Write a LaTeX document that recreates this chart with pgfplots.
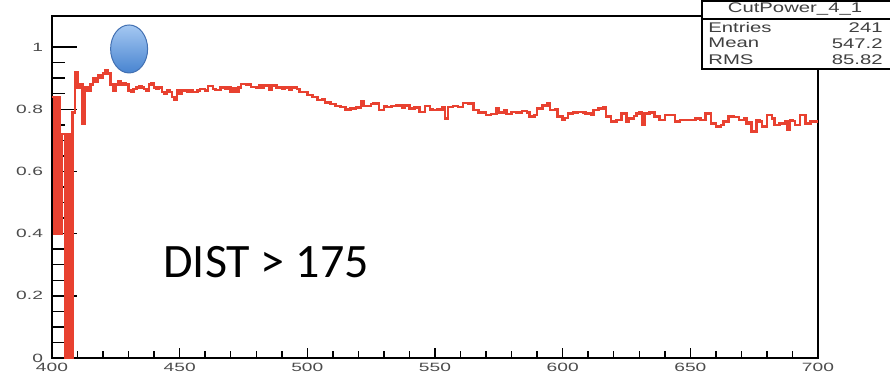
\documentclass[border=0pt]{standalone}
\usepackage{pgfplots}
\pgfplotsset{compat=1.18}
\usetikzlibrary{shapes.geometric}
\usepackage{fontspec}
\setmainfont{Liberation Sans}
\newfontfamily\rootfont[FakeStretch=1.6]{Liberation Sans}
\newfontfamily\statfont[FakeStretch=1.45]{Liberation Sans}
\newfontfamily\calib{Carlito}
\definecolor{histred}{RGB}{232,65,48}
\definecolor{ballhi}{RGB}{165,200,242}
\definecolor{balllo}{RGB}{72,132,208}
\definecolor{ballrim}{RGB}{66,112,178}
\pgfplotstableread{
x y
400 0.84
401 0.40
402 0.84
403 0.40
404 0.72
405 0.00
406 0.72
407 0.00
408 0.79
409 0.92
410 0.87
411 0.88
412 0.755
413 0.87
414 0.86
415 0.88
416 0.90
417 0.89
418 0.91
419 0.90
420 0.915
421 0.926
422 0.915
423 0.88
424 0.86
425 0.88
426 0.89
427 0.88
428 0.885
429 0.88
430 0.86
431 0.855
432 0.865
433 0.87
434 0.875
435 0.87
436 0.865
437 0.86
438 0.88
439 0.885
440 0.87
441 0.865
442 0.87
443 0.855
444 0.85
445 0.86
446 0.855
447 0.84
448 0.83
449 0.86
450 0.85
451 0.86
452 0.86
453 0.855
454 0.86
455 0.855
456 0.855
457 0.86
458 0.865
460 0.86
461 0.875
463 0.865
464 0.862
466 0.87
468 0.865
469 0.872
470 0.856
471 0.867
472 0.856
473 0.87
474 0.881
476 0.878
477 0.88
478 0.872
480 0.87
481 0.876
482 0.868
483 0.876
485 0.864
486 0.876
488 0.87
490 0.865
491 0.87
493 0.864
494 0.87
496 0.866
497 0.856
500 0.846
502 0.84
504 0.83
506 0.833
507 0.821
509 0.817
511 0.81
513 0.808
515 0.80
517 0.803
519 0.805
521 0.827
522 0.81
524 0.81
525 0.817
526 0.818
528 0.797
530 0.81
531 0.808
533 0.81
535 0.812
537 0.805
538 0.812
540 0.803
542 0.806
544 0.792
546 0.81
548 0.80
549 0.797
551 0.80
553 0.808
554 0.771
555 0.808
557 0.81
559 0.808
561 0.82
563 0.819
565 0.797
567 0.789
569 0.79
570 0.781
572 0.785
574 0.803
575 0.79
577 0.797
578 0.785
580 0.792
582 0.79
584 0.795
586 0.79
587 0.776
589 0.781
590 0.803
592 0.814
593 0.81
594 0.82
595 0.797
597 0.80
598 0.776
600 0.765
601 0.772
602 0.787
604 0.79
606 0.792
608 0.79
609 0.787
611 0.781
612 0.797
614 0.803
616 0.806
617 0.776
619 0.76
621 0.765
623 0.787
625 0.76
626 0.771
628 0.779
629 0.787
630 0.79
631 0.749
632 0.787
634 0.79
636 0.776
638 0.765
640 0.781
642 0.781
644 0.76
646 0.765
648 0.765
650 0.765
652 0.771
654 0.765
656 0.787
658 0.755
660 0.744
662 0.75
663 0.76
665 0.776
667 0.775
669 0.765
671 0.77
672 0.755
673 0.758
674 0.728
676 0.765
677 0.76
678 0.744
680 0.781
682 0.77
683 0.749
685 0.755
687 0.76
688 0.733
689 0.765
690 0.762
691 0.749
693 0.781
695 0.755
697 0.76
700 0.76
}\histdata
\begin{document}
\begin{tikzpicture}
\pgfplotsset{
  rootaxis/.style={
    scale only axis, width=383pt, height=171pt,
    xmin=400, xmax=700, ymin=0, ymax=1.1,
    axis line style={line width=1pt, black},
    tick style={line width=0.75pt, black},
    tick align=inside,
    /pgf/number format/assume math mode=true,
    ticklabel style={font=\rootfont\fontsize{6}{7}\selectfont, text=black!70},
  }
}
% y-axis ticks (longer, as in the stretched original)
\begin{axis}[rootaxis,
    xtick=\empty,
    ytick={0,0.2,0.4,0.6,0.8,1},
    minor y tick num=3,
    ytick pos=left,
    major tick length=12.5pt, minor tick length=6.5pt,
    yticklabel style={xshift=-1pt},
]
\end{axis}
% data and x-axis ticks
\begin{axis}[rootaxis, name=ax,
    ytick=\empty,
    xtick={400,450,500,550,600,650,700},
    minor x tick num=4,
    xtick pos=bottom,
    major tick length=5pt, minor tick length=3.3pt,
    xticklabel style={yshift=1pt},
    clip=false,
]
\addplot[const plot, histred, line width=1.25pt, line join=miter] table[x=x,y=y] {\histdata};
\node[ellipse, minimum width=18.5pt, minimum height=24pt, draw=ballrim, line width=0.5pt,
      top color=ballhi, bottom color=balllo, inner sep=0pt] at (axis cs:430.2,0.994) {};
\end{axis}
% DIST label
\node[anchor=base west, inner sep=0pt, font=\calib\fontsize{24}{28}\selectfont]
  at ([shift={(55.5pt,40.5pt)}]ax.south west) {DIST > 175};
% stats box
\draw[fill=white, line width=0.8pt]
  ([shift={(-58pt,7.6pt)}]ax.north east) rectangle ([shift={(40pt,-26.5pt)}]ax.north east);
\draw[line width=0.8pt] ([shift={(-58pt,-1.5pt)}]ax.north east) -- ([shift={(40pt,-1.5pt)}]ax.north east);
\begin{scope}[every node/.style={inner sep=0pt, font=\statfont\fontsize{7}{8}\selectfont, text=black!75}]
\node[anchor=center] at ([shift={(-11.5pt,3.6pt)}]ax.north east) {CutPower\_4\_1};
\node[anchor=west] at ([shift={(-55pt,-5.6pt)}]ax.north east) {Entries};
\node[anchor=east] at ([shift={(32.5pt,-5.6pt)}]ax.north east) {241};
\node[anchor=west] at ([shift={(-55pt,-13.6pt)}]ax.north east) {Mean};
\node[anchor=east] at ([shift={(32.5pt,-13.6pt)}]ax.north east) {547.2};
\node[anchor=west] at ([shift={(-55pt,-21.8pt)}]ax.north east) {RMS};
\node[anchor=east] at ([shift={(32.5pt,-21.8pt)}]ax.north east) {85.82};
\end{scope}
\pgfresetboundingbox
\path[use as bounding box] ([shift={(-26pt,-9pt)}]ax.south west) rectangle ([shift={(36pt,8pt)}]ax.north east);
\end{tikzpicture}
\end{document}
